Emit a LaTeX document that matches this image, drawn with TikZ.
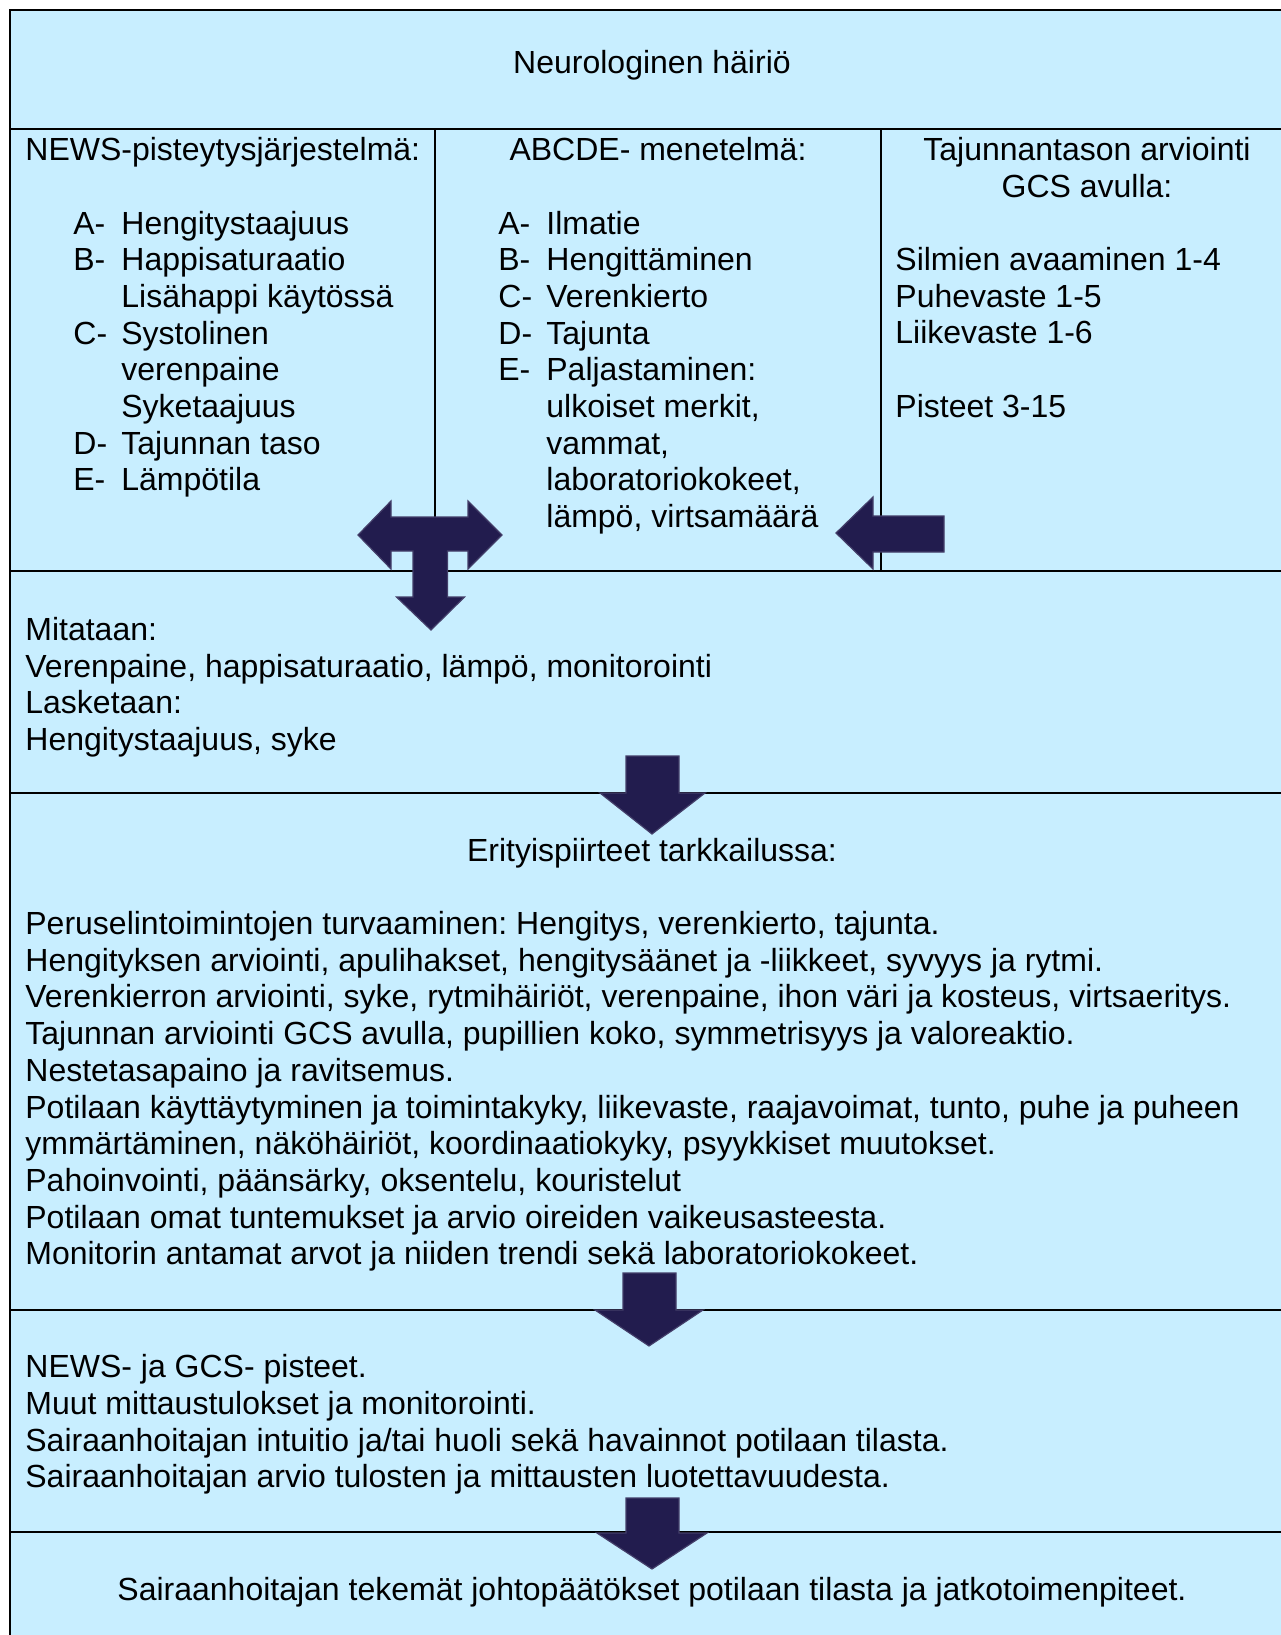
\documentclass[tikz,border=0pt]{standalone}
\usepackage{fontspec}
\setmainfont{Liberation Sans}
\frenchspacing
\definecolor{boxbg}{HTML}{C8EEFF}
\definecolor{arrowc}{HTML}{221C4E}
\begin{document}
\begin{tikzpicture}[x=0.5pt,y=-0.5pt,
  txt/.style={font=\fontsize{16}{18.35}\selectfont, inner sep=0pt, anchor=base west},
  ctxt/.style={txt, anchor=base},
  rule/.style={line width=1pt, draw=black},
  arr/.style={fill=arrowc, draw=arrowc!85!white, line width=0.6pt, line join=miter}]
\clip (0,0) rectangle (1281,1635);
\fill[white] (0,0) rectangle (1281,1635);
% outer box
\fill[boxbg] (10,10) rectangle (1300,1660);
\draw[rule] (10,10) rectangle (1300,1660);
\foreach \yy in {129,571,793,1310,1532} \draw[rule] (10,\yy) -- (1300,\yy);
\draw[rule] (435,129) -- (435,571);
\draw[rule] (881,129) -- (881,571);

% title
\node[ctxt] (title) at (652,73.5) {Neurologinen häiriö};

% column 1
\node[txt] (news) at (25,160) {NEWS-pisteytysjärjestelmä:};
\foreach \l/\t [count=\i] in {A-/Hengitystaajuus, B-/Happisaturaatio, /Lisähappi käytössä, C-/Systolinen, /verenpaine, /Syketaajuus, D-/Tajunnan taso, E-/Lämpötila}{
  \node[txt] (nl\i) at (73,{234+(\i-1)*36.7}) {\l};
  \node[txt] (nt\i) at (121,{234+(\i-1)*36.7}) {\t};
}

% column 2
\node[ctxt] (abcde) at (658,160) {ABCDE- menetelmä:};
\foreach \l/\t [count=\i] in {A-/Ilmatie, B-/Hengittäminen, C-/Verenkierto, D-/Tajunta, E-/Paljastaminen:, /{ulkoiset merkit,}, /{vammat,}, /{laboratoriokokeet,}, /{lämpö, virtsamäärä}}{
  \node[txt] (al\i) at (498,{234+(\i-1)*36.7}) {\l};
  \node[txt] (at\i) at (546,{234+(\i-1)*36.7}) {\t};
}

% column 3
\node[ctxt] (gcs1) at (1087,160) {Tajunnantason arviointi};
\node[ctxt] (gcs2) at (1087,197.6) {GCS avulla:};
\node[txt] (g1) at (895,270.5) {Silmien avaaminen 1-4};
\node[txt] (g2) at (895,307.2) {Puhevaste 1-5};
\node[txt] (g3) at (895,343.9) {Liikevaste 1-6};
\node[txt] (g4) at (895,417.3) {Pisteet 3-15};

% box 3
\foreach \t [count=\i] in {Mitataan:, {Verenpaine, happisaturaatio, lämpö, monitorointi}, Lasketaan:, {Hengitystaajuus, syke}}{
  \node[txt] (m\i) at (25,{640.5+(\i-1)*36.6}) {\t};
}

% box 4
\node[ctxt] (erit) at (652,861.5) {Erityispiirteet tarkkailussa:};
\foreach \t [count=\i] in {
  {Peruselintoimintojen turvaaminen: Hengitys, verenkierto, tajunta.},
  {Hengityksen arviointi, apulihakset, hengitysäänet ja -liikkeet, syvyys ja rytmi.},
  {Verenkierron arviointi, syke, rytmihäiriöt, verenpaine, ihon väri ja kosteus, virtsaeritys.},
  {Tajunnan arviointi GCS avulla, pupillien koko, symmetrisyys ja valoreaktio.},
  {Nestetasapaino ja ravitsemus.},
  {Potilaan käyttäytyminen ja toimintakyky, liikevaste, raajavoimat, tunto, puhe ja puheen},
  {ymmärtäminen, näköhäiriöt, koordinaatiokyky, psyykkiset muutokset.},
  {Pahoinvointi, päänsärky, oksentelu, kouristelut},
  {Potilaan omat tuntemukset ja arvio oireiden vaikeusasteesta.},
  {Monitorin antamat arvot ja niiden trendi sekä laboratoriokokeet.}}{
  \node[txt] (e\i) at (25,{934.5+(\i-1)*36.7}) {\t};
}

% box 5
\foreach \t [count=\i] in {
  {NEWS- ja GCS- pisteet.},
  {Muut mittaustulokset ja monitorointi.},
  {Sairaanhoitajan intuitio ja/tai huoli sekä havainnot potilaan tilasta.},
  {Sairaanhoitajan arvio tulosten ja mittausten luotettavuudesta.}}{
  \node[txt] (s\i) at (25,{1377.5+(\i-1)*36.8}) {\t};
}

% box 6
\node[ctxt] (final) at (652,1600.5) {Sairaanhoitajan tekemät johtopäätökset potilaan tilasta ja jatkotoimenpiteet.};

% arrows
\filldraw[arr] (358,535) -- (391,501) -- (391,517) -- (468,517) -- (468,501) -- (502,535)
  -- (468,569) -- (468,551) -- (447.5,551) -- (447.5,597) -- (464.5,597) -- (431,630)
  -- (396.5,597) -- (413,597) -- (413,551) -- (391,551) -- (391,569) -- cycle;
\filldraw[arr] (836,533) -- (873,497) -- (873,516) -- (944,516) -- (944,552) -- (873,552) -- (873,569) -- cycle;
\filldraw[arr] (626,756) -- (679,756) -- (679,793) -- (705,793) -- (652,834) -- (600,793) -- (626,793) -- cycle;
\filldraw[arr] (623,1273) -- (676,1273) -- (676,1310) -- (703,1310) -- (649,1346) -- (595,1310) -- (623,1310) -- cycle;
\filldraw[arr] (626,1498) -- (679,1498) -- (679,1533) -- (707,1533) -- (652,1569) -- (597,1533) -- (626,1533) -- cycle;
\end{tikzpicture}
\end{document}
